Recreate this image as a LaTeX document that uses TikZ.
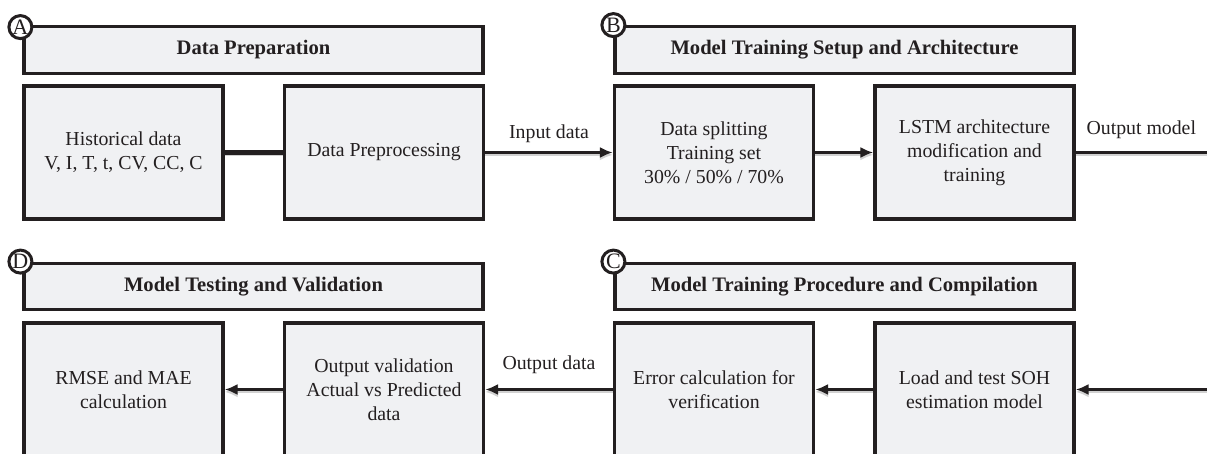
\documentclass[tikz,border=0pt]{standalone}
\usepackage{fontspec}
\setmainfont{Liberation Serif}
\usetikzlibrary{arrows.meta}
\definecolor{boxfill}{HTML}{F0F1F3}
\definecolor{ink}{HTML}{231F20}

\begin{document}
\begin{tikzpicture}[x=0.5pt,y=-0.5pt,
  stagebox/.style={draw=ink, fill=boxfill, line width=1.6pt,
    minimum width=99.5pt, minimum height=66.5pt, align=center,
    inner sep=0pt, font=\fontsize{9.9}{12}\selectfont, text=ink},
  headbox/.style={draw=ink, fill=boxfill, line width=1.6pt,
    minimum width=229.5pt, minimum height=23.3pt, inner sep=0pt,
    font=\fontsize{10.3}{12}\selectfont\bfseries, text=ink},
  tag/.style={circle, draw=ink, fill=white, line width=1.5pt,
    minimum size=11.5pt, inner sep=0pt, font=\fontsize{11}{11}\selectfont, text=ink},
  flow/.style={draw=ink, line width=1.6pt,
    preaction={draw=black!18, line width=1.2pt, transform canvas={yshift=-1.2pt}}},
  arr/.style={flow, -{Latex[length=6.5pt,width=5.5pt]}},
  lbl/.style={font=\fontsize{9.9}{12}\selectfont, inner sep=0pt, text=ink}]

\useasboundingbox (0,0) rectangle (1207,454);
\clip (0,0) rectangle (1207,454);

% section headers
\node[headbox] (hA) at (253.5,50) {Data Preparation};
\node[headbox] (hB) at (844.5,50) {Model Training Setup and Architecture};
\node[headbox] (hD) at (253.5,286.5) {Model Testing and Validation};
\node[headbox] (hC) at (844.5,286.5) {Model Training Procedure and Compilation};

% top row: preparation and setup
\node[stagebox] (hist)  at (123.5,152.5) {Historical data\\V, I, T, t, CV, CC, C};
\node[stagebox] (prep)  at (384,152.5)   {Data Preprocessing};
\node[stagebox] (split) at (714,152.5)   {Data splitting\\Training set\\30\% / 50\% / 70\%};
\node[stagebox] (lstm)  at (974.5,152.5) {LSTM architecture\\modification and\\training};

% bottom row: procedure and testing
\node[stagebox] (rmse)  at (123.5,389.5) {RMSE and MAE\\calculation};
\node[stagebox] (valid) at (384,389.5)   {Output validation\\Actual vs Predicted\\data};
\node[stagebox] (err)   at (714,389.5)   {Error calculation for\\verification};
\node[stagebox] (load)  at (974.5,389.5) {Load and test SOH\\estimation model};

% lettered tags on the header corners
\node[tag] (tA) at ([xshift=-1pt,yshift=-1pt]hA.north west) {A};
\node[tag] (tB) at (hB.north west) {B};
\node[tag] (tD) at ([xshift=-1pt]hD.north west) {D};
\node[tag] (tC) at (hC.north west) {C};

% connectors
\coordinate (outR) at (1207,151);
\coordinate (inR)  at (1207,389.5);

\draw[flow, line width=2.2pt] (hist.east) -- (prep.west);
\draw[arr] (prep.east) -- node[lbl, above=4pt] {Input data} (split.west);
\draw[arr] (split.east) -- (lstm.west);
\draw[flow] (lstm.east) -- node[lbl, above=6pt] {Output model} (lstm.east -| outR);

\draw[arr] (inR) -- (load.east);
\draw[arr] (load.west) -- (err.east);
\draw[arr] (err.west) -- node[lbl, above=7pt] {Output data} (valid.east);
\draw[arr] (valid.west) -- (rmse.east);
\end{tikzpicture}
\end{document}
